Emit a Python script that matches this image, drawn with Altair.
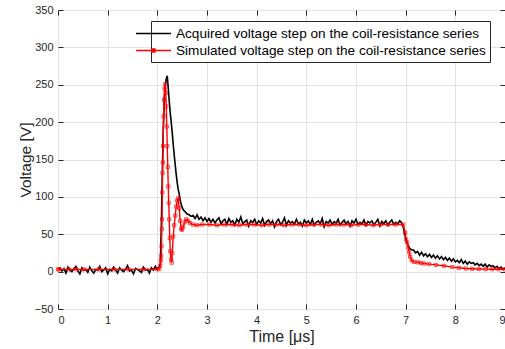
import altair as alt
import numpy as np
import pandas as pd

ACQ = "Acquired voltage step on the coil-resistance series"
SIM = "Simulated voltage step on the coil-resistance series"

# ---- Acquired (noisy) trace ----
acq_base_v = [3, 5, 1, 4, -2, 6, 2, 0, 4, 7, 1, -3, 5, 2, 3, -1, 6, 1, -2, 3,
              2, 7, 0, 2, 5, -3, 3, 1, 6, 2, -2, 5, 2, 0, 3, 8, 1, 2, -3, 4,
              3, 1, -1, 6, 2, 3, -2, 5, 2, 7, 3, 6]
acq_rise_t = [2.06, 2.08, 2.10, 2.12, 2.14, 2.16, 2.18, 2.20, 2.22, 2.24, 2.26, 2.28,
              2.30, 2.32, 2.34, 2.36, 2.38, 2.40, 2.42, 2.44, 2.46, 2.48, 2.50, 2.53,
              2.56, 2.60, 2.64, 2.68]
acq_rise_v = [10, 60, 130, 190, 230, 250, 258, 262, 245, 228, 212, 200,
              186, 170, 156, 143, 130, 119, 110, 104, 96, 90, 86, 82,
              80, 77, 76, 74]
acq_plat_v = [75, 71, 76, 70, 73, 68, 72, 67, 71, 66,
              70, 65, 69, 72, 64, 68, 70, 63, 71, 66,
              68, 62, 70, 66, 73, 64, 67, 69, 61, 68,
              66, 70, 63, 68, 65, 71, 62, 67, 69, 64,
              68, 60, 67, 70, 63, 66, 72, 62, 68, 65,
              67, 63, 70, 64, 66, 61, 69, 65, 68, 63,
              70, 62, 66, 68, 64, 71, 60, 67, 65, 69,
              63, 67, 65, 70, 62, 66, 69, 64, 67, 61,
              68, 65, 70, 63, 66, 64, 69, 62, 67, 65,
              68, 63, 66, 70, 61, 67, 64, 68, 62, 66,
              69, 63, 66, 64, 68, 65]
acq_drop_t = [6.95, 6.98, 7.01, 7.04, 7.07, 7.10, 7.13]
acq_drop_v = [60, 50, 42, 36, 32, 30, 29]
acq_tail_v = [29, 25, 27, 22, 26, 21, 24, 20, 23, 19,
              22, 18, 21, 17, 20, 16, 19, 15, 18, 14,
              17, 13, 15, 12, 16, 11, 14, 10, 13, 11,
              12, 9, 11, 8, 10, 7, 10, 6, 9, 7,
              8, 5, 7, 4, 6, 3, 5]

# ---- Simulated trace ----
sim_t = [0.0, 0.02, 0.22, 0.37, 0.52, 0.82, 1.12, 1.42, 1.72, 2.0, 2.04,
         2.06, 2.07, 2.08, 2.085, 2.09, 2.095, 2.10, 2.105, 2.11, 2.115, 2.125, 2.135, 2.145, 2.16,
         2.17, 2.18, 2.19, 2.20, 2.21, 2.22, 2.23, 2.24, 2.25, 2.26, 2.275, 2.29,
         2.30, 2.32, 2.34, 2.36, 2.38, 2.40, 2.42, 2.44, 2.46, 2.48, 2.50, 2.52,
         2.55, 2.58, 2.62, 2.66, 2.72, 2.80,
         2.90, 3.05, 3.20, 3.35, 3.50, 3.65, 3.80, 3.95, 4.10, 4.25, 4.40, 4.55,
         4.70, 4.85, 5.00, 5.15, 5.30, 5.45, 5.60, 5.75, 5.90, 6.05, 6.20, 6.35,
         6.50, 6.65, 6.80, 6.95,
         6.99, 7.01, 7.03, 7.05, 7.07, 7.09, 7.12, 7.17, 7.24, 7.31, 7.37, 7.47,
         7.61, 7.77, 7.94, 8.07, 8.21, 8.34, 8.47, 8.61, 8.74, 8.87, 9.0]
sim_v = [3, 3, 3, 3, 3, 3, 3, 3, 3, 3, 4,
         8, 15, 21, 34, 57, 70, 106, 132, 146, 168, 208, 230, 245, 251,
         239, 221, 194, 168, 140, 114, 92, 70, 45, 27, 16, 12,
         25, 47, 62, 75, 87, 95, 98, 85, 68, 57, 56, 60,
         66, 70, 68, 65, 63, 62,
         63, 63, 62, 63, 63, 62, 63, 63, 62, 63, 63, 62,
         63, 63, 62, 63, 63, 62, 63, 63, 62, 63, 63, 62,
         63, 63, 63, 63,
         52, 43, 39, 32, 26, 20, 15, 13, 12.5, 11.5, 10.8, 10,
         9, 7.8, 6, 5.1, 4.2, 3.8, 3.5, 3.3, 3.2, 3.1, 3]

x_ticks = [0, 1, 2, 3, 4, 5, 6, 7, 8, 9]
y_ticks = [-50, 0, 50, 100, 150, 200, 250, 300, 350]

acq_t = (list(np.round(np.arange(len(acq_base_v)) * 0.04, 2)) + acq_rise_t
         + list(np.round(2.72 + np.arange(len(acq_plat_v)) * 0.04, 2)) + acq_drop_t
         + list(np.round(7.16 + np.arange(len(acq_tail_v)) * 0.04, 2)))
acq_v = acq_base_v + acq_rise_v + acq_plat_v + acq_drop_v + acq_tail_v

acq_df = pd.DataFrame({"t": acq_t, "v": acq_v})
sim_df = pd.DataFrame({"t": sim_t, "v": sim_v})
leg_df = pd.DataFrame({"series": [ACQ, SIM]})

FONT = "Liberation Sans"
DARK = "#262626"

xs = alt.Scale(domain=[0, 9], nice=False)
ys = alt.Scale(domain=[-50, 350], nice=False)

x_bottom = alt.Axis(values=x_ticks, offset=-5, domain=False, tickSize=5, tickColor=DARK,
                    labelPadding=5, labelFont=FONT, labelFontSize=11, labelColor=DARK,
                    title="Time [μs]", titleFont=FONT, titleFontSize=16,
                    titleFontWeight="normal", titleColor=DARK, titlePadding=3,
                    grid=True, gridColor="#e3e3e3")
y_left = alt.Axis(values=y_ticks, offset=-5, domain=False, tickSize=5, tickColor=DARK,
                  labelPadding=5, labelFont=FONT, labelFontSize=11, labelColor=DARK,
                  title="Voltage [V]", titleFont=FONT, titleFontSize=15.5,
                  titleFontWeight="normal", titleColor=DARK, titlePadding=1,
                  grid=True, gridColor="#e3e3e3")
x_top = alt.Axis(values=x_ticks, orient="top", offset=-5, domain=False, tickSize=5,
                 tickColor=DARK, labels=False, title="", grid=False)
y_right = alt.Axis(values=y_ticks, orient="right", offset=-5, domain=False, tickSize=5,
                   tickColor=DARK, labels=False, title="", grid=False)

acq_line = alt.Chart(acq_df).mark_line(color="black", strokeWidth=1.6).encode(
    x=alt.X("t:Q", scale=xs, axis=x_bottom),
    y=alt.Y("v:Q", scale=ys, axis=y_left),
)
sim_line = alt.Chart(sim_df).mark_line(color="#ff0000", strokeWidth=1.4).encode(
    x=alt.X("t:Q", scale=xs, axis=x_top),
    y=alt.Y("v:Q", scale=ys, axis=y_right),
)
sim_pts = alt.Chart(sim_df).mark_point(shape="square", size=10, filled=False,
                                       color="#ff0000", strokeWidth=1).encode(
    x=alt.X("t:Q", scale=xs, axis=None),
    y=alt.Y("v:Q", scale=ys, axis=None),
)

acq_path = "M-3.67,0L1,0"
sim_path = "M-3.67,0L1,0M-1.53,-0.2L-1.13,-0.2L-1.13,0.2L-1.53,0.2Z"

leg = alt.Legend(orient="none", legendX=93, legendY=11, title=None,
                 symbolOpacity=1, symbolSize=225, symbolStrokeWidth=1.3,
                 labelFont=FONT, labelFontSize=13.6, labelColor="black",
                 labelLimit=600, labelOffset=4, rowPadding=1,
                 padding=4, strokeColor=DARK, fillColor="white")

legend_layer = alt.Chart(leg_df).mark_point(opacity=0, filled=False, strokeWidth=1.3).encode(
    x=alt.value(0),
    y=alt.value(0),
    color=alt.Color("series:N",
                    scale=alt.Scale(domain=[ACQ, SIM], range=["black", "#ff0000"]),
                    legend=leg),
    shape=alt.Shape("series:N",
                    scale=alt.Scale(domain=[ACQ, SIM], range=[acq_path, sim_path]),
                    legend=leg),
)

chart = alt.layer(acq_line, sim_line, sim_pts, legend_layer).resolve_axis(
    x="independent", y="independent"
).properties(
    width=447, height=299,
    autosize=alt.AutoSizeParams(type="none"),
    padding={"left": 58, "top": 10, "right": 0, "bottom": 40},
).configure_view(stroke=DARK, strokeWidth=1).configure(background="white")

chart.save("out.html", embed_options={"renderer": "svg", "actions": False})
